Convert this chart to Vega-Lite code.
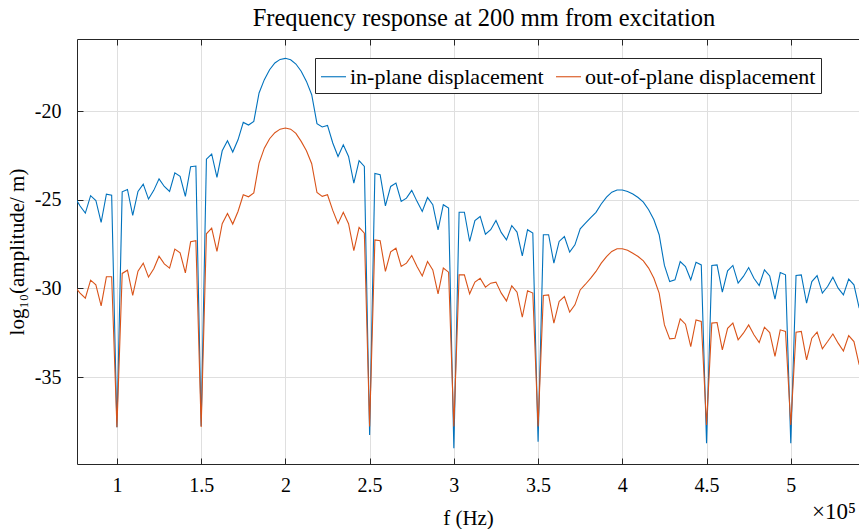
{
"$schema": "https://vega.github.io/schema/vega-lite/v6.json",
"width": 782,
"height": 425,
"autosize": {"type": "none"},
"padding": {"left": 77, "top": 39, "right": 0, "bottom": 65},
"background": "white",
"config": {
  "font": "Liberation Serif",
  "view": {"stroke": null},
  "axis": {
    "domainColor": "#262626", "domainWidth": 1,
    "tickColor": "#262626", "tickSize": -6, "tickWidth": 1,
    "gridColor": "#dfdfdf", "gridWidth": 1,
    "labelFont": "Liberation Serif", "labelFontSize": 20, "labelColor": "#000000",
    "titleFont": "Liberation Serif", "titleFontSize": 21, "titleFontWeight": "normal", "titleColor": "#000000"
  }
},
"title": {"text": "Frequency response at 200 mm from excitation", "font": "Liberation Serif", "fontSize": 24.5, "fontWeight": "normal", "color": "#000000", "offset": 7, "dx": 16},
"data": {"values": [
{"f":75000,"v":-24.85,"s":"in-plane displacement"},
{"f":78125,"v":-25.35,"s":"in-plane displacement"},
{"f":81250,"v":-25.75,"s":"in-plane displacement"},
{"f":84375,"v":-24.77,"s":"in-plane displacement"},
{"f":87500,"v":-25.04,"s":"in-plane displacement"},
{"f":90625,"v":-26.28,"s":"in-plane displacement"},
{"f":93750,"v":-24.68,"s":"in-plane displacement"},
{"f":96875,"v":-24.74,"s":"in-plane displacement"},
{"f":100000,"v":-37.82,"s":"in-plane displacement"},
{"f":103125,"v":-24.55,"s":"in-plane displacement"},
{"f":106250,"v":-24.42,"s":"in-plane displacement"},
{"f":109375,"v":-25.88,"s":"in-plane displacement"},
{"f":112500,"v":-24.53,"s":"in-plane displacement"},
{"f":115625,"v":-24.12,"s":"in-plane displacement"},
{"f":118750,"v":-24.96,"s":"in-plane displacement"},
{"f":121875,"v":-24.47,"s":"in-plane displacement"},
{"f":125000,"v":-23.82,"s":"in-plane displacement"},
{"f":128125,"v":-24.25,"s":"in-plane displacement"},
{"f":131250,"v":-24.53,"s":"in-plane displacement"},
{"f":134375,"v":-23.48,"s":"in-plane displacement"},
{"f":137500,"v":-23.68,"s":"in-plane displacement"},
{"f":140625,"v":-24.81,"s":"in-plane displacement"},
{"f":143750,"v":-23.14,"s":"in-plane displacement"},
{"f":146875,"v":-23.10,"s":"in-plane displacement"},
{"f":150000,"v":-37.75,"s":"in-plane displacement"},
{"f":153125,"v":-22.71,"s":"in-plane displacement"},
{"f":156250,"v":-22.42,"s":"in-plane displacement"},
{"f":159375,"v":-23.74,"s":"in-plane displacement"},
{"f":162500,"v":-22.24,"s":"in-plane displacement"},
{"f":165625,"v":-21.67,"s":"in-plane displacement"},
{"f":168750,"v":-22.31,"s":"in-plane displacement"},
{"f":171875,"v":-21.62,"s":"in-plane displacement"},
{"f":175000,"v":-20.64,"s":"in-plane displacement"},
{"f":178125,"v":-20.79,"s":"in-plane displacement"},
{"f":181250,"v":-20.58,"s":"in-plane displacement"},
{"f":184375,"v":-18.98,"s":"in-plane displacement"},
{"f":187500,"v":-18.23,"s":"in-plane displacement"},
{"f":190625,"v":-17.67,"s":"in-plane displacement"},
{"f":193750,"v":-17.29,"s":"in-plane displacement"},
{"f":196875,"v":-17.09,"s":"in-plane displacement"},
{"f":200000,"v":-17.03,"s":"in-plane displacement"},
{"f":203125,"v":-17.11,"s":"in-plane displacement"},
{"f":206250,"v":-17.35,"s":"in-plane displacement"},
{"f":209375,"v":-17.76,"s":"in-plane displacement"},
{"f":212500,"v":-18.33,"s":"in-plane displacement"},
{"f":215625,"v":-19.08,"s":"in-plane displacement"},
{"f":218750,"v":-20.71,"s":"in-plane displacement"},
{"f":221875,"v":-20.90,"s":"in-plane displacement"},
{"f":225000,"v":-20.81,"s":"in-plane displacement"},
{"f":228125,"v":-21.80,"s":"in-plane displacement"},
{"f":231250,"v":-22.56,"s":"in-plane displacement"},
{"f":234375,"v":-21.90,"s":"in-plane displacement"},
{"f":237500,"v":-22.56,"s":"in-plane displacement"},
{"f":240625,"v":-24.06,"s":"in-plane displacement"},
{"f":243750,"v":-22.80,"s":"in-plane displacement"},
{"f":246875,"v":-23.12,"s":"in-plane displacement"},
{"f":250000,"v":-38.25,"s":"in-plane displacement"},
{"f":253125,"v":-23.52,"s":"in-plane displacement"},
{"f":256250,"v":-23.59,"s":"in-plane displacement"},
{"f":259375,"v":-25.34,"s":"in-plane displacement"},
{"f":262500,"v":-24.25,"s":"in-plane displacement"},
{"f":265625,"v":-24.06,"s":"in-plane displacement"},
{"f":268750,"v":-25.09,"s":"in-plane displacement"},
{"f":271875,"v":-24.91,"s":"in-plane displacement"},
{"f":275000,"v":-24.47,"s":"in-plane displacement"},
{"f":278125,"v":-25.09,"s":"in-plane displacement"},
{"f":281250,"v":-25.66,"s":"in-plane displacement"},
{"f":284375,"v":-24.87,"s":"in-plane displacement"},
{"f":287500,"v":-25.28,"s":"in-plane displacement"},
{"f":290625,"v":-26.69,"s":"in-plane displacement"},
{"f":293750,"v":-25.28,"s":"in-plane displacement"},
{"f":296875,"v":-25.47,"s":"in-plane displacement"},
{"f":300000,"v":-39.00,"s":"in-plane displacement"},
{"f":303125,"v":-25.70,"s":"in-plane displacement"},
{"f":306250,"v":-25.70,"s":"in-plane displacement"},
{"f":309375,"v":-27.35,"s":"in-plane displacement"},
{"f":312500,"v":-26.17,"s":"in-plane displacement"},
{"f":315625,"v":-25.94,"s":"in-plane displacement"},
{"f":318750,"v":-26.94,"s":"in-plane displacement"},
{"f":321875,"v":-26.69,"s":"in-plane displacement"},
{"f":325000,"v":-26.17,"s":"in-plane displacement"},
{"f":328125,"v":-26.84,"s":"in-plane displacement"},
{"f":331250,"v":-27.26,"s":"in-plane displacement"},
{"f":334375,"v":-26.45,"s":"in-plane displacement"},
{"f":337500,"v":-26.82,"s":"in-plane displacement"},
{"f":340625,"v":-28.16,"s":"in-plane displacement"},
{"f":343750,"v":-26.69,"s":"in-plane displacement"},
{"f":346875,"v":-26.88,"s":"in-plane displacement"},
{"f":350000,"v":-38.63,"s":"in-plane displacement"},
{"f":353125,"v":-26.97,"s":"in-plane displacement"},
{"f":356250,"v":-26.97,"s":"in-plane displacement"},
{"f":359375,"v":-28.57,"s":"in-plane displacement"},
{"f":362500,"v":-27.35,"s":"in-plane displacement"},
{"f":365625,"v":-27.07,"s":"in-plane displacement"},
{"f":368750,"v":-27.95,"s":"in-plane displacement"},
{"f":371875,"v":-27.54,"s":"in-plane displacement"},
{"f":375000,"v":-26.64,"s":"in-plane displacement"},
{"f":378125,"v":-26.32,"s":"in-plane displacement"},
{"f":381250,"v":-26.00,"s":"in-plane displacement"},
{"f":384375,"v":-25.71,"s":"in-plane displacement"},
{"f":387500,"v":-25.24,"s":"in-plane displacement"},
{"f":390625,"v":-24.85,"s":"in-plane displacement"},
{"f":393750,"v":-24.57,"s":"in-plane displacement"},
{"f":396875,"v":-24.45,"s":"in-plane displacement"},
{"f":400000,"v":-24.45,"s":"in-plane displacement"},
{"f":403125,"v":-24.53,"s":"in-plane displacement"},
{"f":406250,"v":-24.68,"s":"in-plane displacement"},
{"f":409375,"v":-24.87,"s":"in-plane displacement"},
{"f":412500,"v":-25.13,"s":"in-plane displacement"},
{"f":415625,"v":-25.56,"s":"in-plane displacement"},
{"f":418750,"v":-26.13,"s":"in-plane displacement"},
{"f":421875,"v":-26.97,"s":"in-plane displacement"},
{"f":425000,"v":-28.70,"s":"in-plane displacement"},
{"f":428125,"v":-29.61,"s":"in-plane displacement"},
{"f":431250,"v":-29.51,"s":"in-plane displacement"},
{"f":434375,"v":-28.48,"s":"in-plane displacement"},
{"f":437500,"v":-28.76,"s":"in-plane displacement"},
{"f":440625,"v":-29.51,"s":"in-plane displacement"},
{"f":443750,"v":-28.52,"s":"in-plane displacement"},
{"f":446875,"v":-28.67,"s":"in-plane displacement"},
{"f":450000,"v":-38.72,"s":"in-plane displacement"},
{"f":453125,"v":-28.70,"s":"in-plane displacement"},
{"f":456250,"v":-28.67,"s":"in-plane displacement"},
{"f":459375,"v":-30.20,"s":"in-plane displacement"},
{"f":462500,"v":-29.00,"s":"in-plane displacement"},
{"f":465625,"v":-28.70,"s":"in-plane displacement"},
{"f":468750,"v":-29.70,"s":"in-plane displacement"},
{"f":471875,"v":-29.32,"s":"in-plane displacement"},
{"f":475000,"v":-28.82,"s":"in-plane displacement"},
{"f":478125,"v":-29.42,"s":"in-plane displacement"},
{"f":481250,"v":-29.83,"s":"in-plane displacement"},
{"f":484375,"v":-28.95,"s":"in-plane displacement"},
{"f":487500,"v":-29.29,"s":"in-plane displacement"},
{"f":490625,"v":-30.60,"s":"in-plane displacement"},
{"f":493750,"v":-29.10,"s":"in-plane displacement"},
{"f":496875,"v":-29.23,"s":"in-plane displacement"},
{"f":500000,"v":-38.72,"s":"in-plane displacement"},
{"f":503125,"v":-29.27,"s":"in-plane displacement"},
{"f":506250,"v":-29.23,"s":"in-plane displacement"},
{"f":509375,"v":-30.83,"s":"in-plane displacement"},
{"f":512500,"v":-29.61,"s":"in-plane displacement"},
{"f":515625,"v":-29.27,"s":"in-plane displacement"},
{"f":518750,"v":-30.26,"s":"in-plane displacement"},
{"f":521875,"v":-29.89,"s":"in-plane displacement"},
{"f":525000,"v":-29.36,"s":"in-plane displacement"},
{"f":528125,"v":-29.98,"s":"in-plane displacement"},
{"f":531250,"v":-30.36,"s":"in-plane displacement"},
{"f":534375,"v":-29.47,"s":"in-plane displacement"},
{"f":537500,"v":-29.79,"s":"in-plane displacement"},
{"f":540625,"v":-31.11,"s":"in-plane displacement"},
{"f":75000,"v":-29.90,"s":"out-of-plane displacement"},
{"f":78125,"v":-30.26,"s":"out-of-plane displacement"},
{"f":81250,"v":-30.55,"s":"out-of-plane displacement"},
{"f":84375,"v":-29.53,"s":"out-of-plane displacement"},
{"f":87500,"v":-29.79,"s":"out-of-plane displacement"},
{"f":90625,"v":-30.98,"s":"out-of-plane displacement"},
{"f":93750,"v":-29.34,"s":"out-of-plane displacement"},
{"f":96875,"v":-29.34,"s":"out-of-plane displacement"},
{"f":100000,"v":-37.82,"s":"out-of-plane displacement"},
{"f":103125,"v":-29.15,"s":"out-of-plane displacement"},
{"f":106250,"v":-28.97,"s":"out-of-plane displacement"},
{"f":109375,"v":-30.39,"s":"out-of-plane displacement"},
{"f":112500,"v":-29.02,"s":"out-of-plane displacement"},
{"f":115625,"v":-28.57,"s":"out-of-plane displacement"},
{"f":118750,"v":-29.36,"s":"out-of-plane displacement"},
{"f":121875,"v":-28.89,"s":"out-of-plane displacement"},
{"f":125000,"v":-28.18,"s":"out-of-plane displacement"},
{"f":128125,"v":-28.61,"s":"out-of-plane displacement"},
{"f":131250,"v":-28.85,"s":"out-of-plane displacement"},
{"f":134375,"v":-27.78,"s":"out-of-plane displacement"},
{"f":137500,"v":-27.99,"s":"out-of-plane displacement"},
{"f":140625,"v":-29.12,"s":"out-of-plane displacement"},
{"f":143750,"v":-27.37,"s":"out-of-plane displacement"},
{"f":146875,"v":-27.31,"s":"out-of-plane displacement"},
{"f":150000,"v":-37.80,"s":"out-of-plane displacement"},
{"f":153125,"v":-26.92,"s":"out-of-plane displacement"},
{"f":156250,"v":-26.60,"s":"out-of-plane displacement"},
{"f":159375,"v":-27.91,"s":"out-of-plane displacement"},
{"f":162500,"v":-26.35,"s":"out-of-plane displacement"},
{"f":165625,"v":-25.77,"s":"out-of-plane displacement"},
{"f":168750,"v":-26.37,"s":"out-of-plane displacement"},
{"f":171875,"v":-25.66,"s":"out-of-plane displacement"},
{"f":175000,"v":-24.72,"s":"out-of-plane displacement"},
{"f":178125,"v":-24.83,"s":"out-of-plane displacement"},
{"f":181250,"v":-24.61,"s":"out-of-plane displacement"},
{"f":184375,"v":-22.93,"s":"out-of-plane displacement"},
{"f":187500,"v":-22.09,"s":"out-of-plane displacement"},
{"f":190625,"v":-21.56,"s":"out-of-plane displacement"},
{"f":193750,"v":-21.22,"s":"out-of-plane displacement"},
{"f":196875,"v":-21.02,"s":"out-of-plane displacement"},
{"f":200000,"v":-20.96,"s":"out-of-plane displacement"},
{"f":203125,"v":-21.02,"s":"out-of-plane displacement"},
{"f":206250,"v":-21.26,"s":"out-of-plane displacement"},
{"f":209375,"v":-21.71,"s":"out-of-plane displacement"},
{"f":212500,"v":-22.24,"s":"out-of-plane displacement"},
{"f":215625,"v":-22.97,"s":"out-of-plane displacement"},
{"f":218750,"v":-24.59,"s":"out-of-plane displacement"},
{"f":221875,"v":-24.81,"s":"out-of-plane displacement"},
{"f":225000,"v":-24.72,"s":"out-of-plane displacement"},
{"f":228125,"v":-25.60,"s":"out-of-plane displacement"},
{"f":231250,"v":-26.35,"s":"out-of-plane displacement"},
{"f":234375,"v":-25.71,"s":"out-of-plane displacement"},
{"f":237500,"v":-26.35,"s":"out-of-plane displacement"},
{"f":240625,"v":-27.86,"s":"out-of-plane displacement"},
{"f":243750,"v":-26.56,"s":"out-of-plane displacement"},
{"f":246875,"v":-26.88,"s":"out-of-plane displacement"},
{"f":250000,"v":-37.78,"s":"out-of-plane displacement"},
{"f":253125,"v":-27.26,"s":"out-of-plane displacement"},
{"f":256250,"v":-27.31,"s":"out-of-plane displacement"},
{"f":259375,"v":-29.04,"s":"out-of-plane displacement"},
{"f":262500,"v":-27.93,"s":"out-of-plane displacement"},
{"f":265625,"v":-27.73,"s":"out-of-plane displacement"},
{"f":268750,"v":-28.76,"s":"out-of-plane displacement"},
{"f":271875,"v":-28.57,"s":"out-of-plane displacement"},
{"f":275000,"v":-28.14,"s":"out-of-plane displacement"},
{"f":278125,"v":-28.76,"s":"out-of-plane displacement"},
{"f":281250,"v":-29.29,"s":"out-of-plane displacement"},
{"f":284375,"v":-28.48,"s":"out-of-plane displacement"},
{"f":287500,"v":-28.95,"s":"out-of-plane displacement"},
{"f":290625,"v":-30.30,"s":"out-of-plane displacement"},
{"f":293750,"v":-28.85,"s":"out-of-plane displacement"},
{"f":296875,"v":-29.08,"s":"out-of-plane displacement"},
{"f":300000,"v":-37.78,"s":"out-of-plane displacement"},
{"f":303125,"v":-29.23,"s":"out-of-plane displacement"},
{"f":306250,"v":-29.23,"s":"out-of-plane displacement"},
{"f":309375,"v":-30.30,"s":"out-of-plane displacement"},
{"f":312500,"v":-29.64,"s":"out-of-plane displacement"},
{"f":315625,"v":-29.42,"s":"out-of-plane displacement"},
{"f":318750,"v":-29.92,"s":"out-of-plane displacement"},
{"f":321875,"v":-29.70,"s":"out-of-plane displacement"},
{"f":325000,"v":-29.64,"s":"out-of-plane displacement"},
{"f":328125,"v":-30.26,"s":"out-of-plane displacement"},
{"f":331250,"v":-30.70,"s":"out-of-plane displacement"},
{"f":334375,"v":-29.85,"s":"out-of-plane displacement"},
{"f":337500,"v":-30.21,"s":"out-of-plane displacement"},
{"f":340625,"v":-31.62,"s":"out-of-plane displacement"},
{"f":343750,"v":-30.13,"s":"out-of-plane displacement"},
{"f":346875,"v":-30.26,"s":"out-of-plane displacement"},
{"f":350000,"v":-37.78,"s":"out-of-plane displacement"},
{"f":353125,"v":-30.39,"s":"out-of-plane displacement"},
{"f":356250,"v":-30.36,"s":"out-of-plane displacement"},
{"f":359375,"v":-31.95,"s":"out-of-plane displacement"},
{"f":362500,"v":-30.73,"s":"out-of-plane displacement"},
{"f":365625,"v":-30.45,"s":"out-of-plane displacement"},
{"f":368750,"v":-31.33,"s":"out-of-plane displacement"},
{"f":371875,"v":-30.92,"s":"out-of-plane displacement"},
{"f":375000,"v":-30.08,"s":"out-of-plane displacement"},
{"f":378125,"v":-29.76,"s":"out-of-plane displacement"},
{"f":381250,"v":-29.42,"s":"out-of-plane displacement"},
{"f":384375,"v":-29.04,"s":"out-of-plane displacement"},
{"f":387500,"v":-28.57,"s":"out-of-plane displacement"},
{"f":390625,"v":-28.20,"s":"out-of-plane displacement"},
{"f":393750,"v":-27.91,"s":"out-of-plane displacement"},
{"f":396875,"v":-27.76,"s":"out-of-plane displacement"},
{"f":400000,"v":-27.76,"s":"out-of-plane displacement"},
{"f":403125,"v":-27.84,"s":"out-of-plane displacement"},
{"f":406250,"v":-28.01,"s":"out-of-plane displacement"},
{"f":409375,"v":-28.20,"s":"out-of-plane displacement"},
{"f":412500,"v":-28.44,"s":"out-of-plane displacement"},
{"f":415625,"v":-28.85,"s":"out-of-plane displacement"},
{"f":418750,"v":-29.42,"s":"out-of-plane displacement"},
{"f":421875,"v":-30.26,"s":"out-of-plane displacement"},
{"f":425000,"v":-32.05,"s":"out-of-plane displacement"},
{"f":428125,"v":-32.84,"s":"out-of-plane displacement"},
{"f":431250,"v":-32.80,"s":"out-of-plane displacement"},
{"f":434375,"v":-31.71,"s":"out-of-plane displacement"},
{"f":437500,"v":-32.01,"s":"out-of-plane displacement"},
{"f":440625,"v":-33.27,"s":"out-of-plane displacement"},
{"f":443750,"v":-31.77,"s":"out-of-plane displacement"},
{"f":446875,"v":-31.86,"s":"out-of-plane displacement"},
{"f":450000,"v":-37.69,"s":"out-of-plane displacement"},
{"f":453125,"v":-31.95,"s":"out-of-plane displacement"},
{"f":456250,"v":-31.92,"s":"out-of-plane displacement"},
{"f":459375,"v":-33.46,"s":"out-of-plane displacement"},
{"f":462500,"v":-32.24,"s":"out-of-plane displacement"},
{"f":465625,"v":-31.95,"s":"out-of-plane displacement"},
{"f":468750,"v":-32.89,"s":"out-of-plane displacement"},
{"f":471875,"v":-32.52,"s":"out-of-plane displacement"},
{"f":475000,"v":-32.05,"s":"out-of-plane displacement"},
{"f":478125,"v":-32.61,"s":"out-of-plane displacement"},
{"f":481250,"v":-33.05,"s":"out-of-plane displacement"},
{"f":484375,"v":-32.18,"s":"out-of-plane displacement"},
{"f":487500,"v":-32.48,"s":"out-of-plane displacement"},
{"f":490625,"v":-33.83,"s":"out-of-plane displacement"},
{"f":493750,"v":-32.33,"s":"out-of-plane displacement"},
{"f":496875,"v":-32.42,"s":"out-of-plane displacement"},
{"f":500000,"v":-37.69,"s":"out-of-plane displacement"},
{"f":503125,"v":-32.46,"s":"out-of-plane displacement"},
{"f":506250,"v":-32.42,"s":"out-of-plane displacement"},
{"f":509375,"v":-34.02,"s":"out-of-plane displacement"},
{"f":512500,"v":-32.80,"s":"out-of-plane displacement"},
{"f":515625,"v":-32.46,"s":"out-of-plane displacement"},
{"f":518750,"v":-33.40,"s":"out-of-plane displacement"},
{"f":521875,"v":-32.99,"s":"out-of-plane displacement"},
{"f":525000,"v":-32.56,"s":"out-of-plane displacement"},
{"f":528125,"v":-33.08,"s":"out-of-plane displacement"},
{"f":531250,"v":-33.52,"s":"out-of-plane displacement"},
{"f":534375,"v":-32.65,"s":"out-of-plane displacement"},
{"f":537500,"v":-32.99,"s":"out-of-plane displacement"},
{"f":540625,"v":-34.30,"s":"out-of-plane displacement"}
]},
"layer": [
  {
    "mark": {"type": "line", "strokeWidth": 1.1, "clip": true},
    "encoding": {
      "x": {"field": "f", "type": "quantitative",
        "scale": {"domain": [76300, 540500], "nice": false, "zero": false},
        "axis": {"orient": "bottom", "values": [100000,150000,200000,250000,300000,350000,400000,450000,500000],
          "labelExpr": "datum.value / 100000", "labelPadding": 17, "title": "f (Hz)", "titlePadding": 12, "grid": true}},
      "y": {"field": "v", "type": "quantitative",
        "scale": {"domain": [-39.89, -15.94], "nice": false, "zero": false},
        "axis": {"orient": "left", "values": [-35,-30,-25,-20], "labelExpr": "'-' + abs(datum.value)", "labelPadding": 22,
          "title": "log₁₀(amplitude/ m)", "titlePadding": 7, "grid": true}},
      "color": {"field": "s", "type": "nominal",
        "scale": {"domain": ["in-plane displacement", "out-of-plane displacement"], "range": ["#0072BD", "#D95319"]},
        "legend": {"orient": "none", "legendX": 238, "legendY": 19, "direction": "horizontal", "title": null,
          "symbolType": "stroke", "symbolSize": 625, "symbolStrokeWidth": 1.1,
          "labelExpr": "datum.index == 1 ? datum.label + '\u00a0\u00a0\u00a0\u00a0\u00a0\u00a0\u00a0' : datum.label",
          "labelFont": "Liberation Serif", "labelFontSize": 22, "labelColor": "#000000", "labelLimit": 600, "labelOffset": 3,
          "strokeColor": "#262626", "fillColor": "white", "padding": 5, "columnPadding": 9}}
    }
  },
  {
    "mark": {"type": "point", "opacity": 0},
    "encoding": {
      "x": {"field": "f", "type": "quantitative",
        "axis": {"orient": "top", "values": [100000,150000,200000,250000,300000,350000,400000,450000,500000],
          "labels": false, "grid": false, "title": null}}
    }
  },
  {
    "data": {"values": [{"label": "×10⁵"}]},
    "mark": {"type": "text", "align": "right", "baseline": "top", "dy": 37, "dx": -3, "fontSize": 23, "font": "Liberation Serif", "color": "#000000", "clip": false},
    "encoding": {
      "text": {"field": "label", "type": "nominal"},
      "x": {"datum": 540500, "type": "quantitative", "axis": null},
      "y": {"datum": -39.89, "type": "quantitative"}
    }
  }
]
}
